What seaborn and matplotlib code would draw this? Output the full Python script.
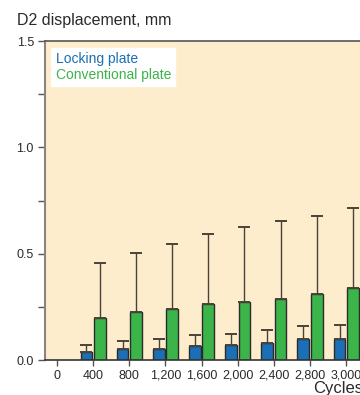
import matplotlib
matplotlib.use("Agg")
import matplotlib.pyplot as plt
import seaborn as sns
import pandas as pd
import numpy as np

sns.set_style("ticks")
plt.rcParams["font.family"] = ["Liberation Sans", "DejaVu Sans"]

# Data
cycles = ["0", "400", "800", "1,200", "1,600", "2,000", "2,400", "2,800", "3,000"]
bar_cycles = cycles[1:]
locking_mean = [0.038, 0.050, 0.052, 0.068, 0.071, 0.080, 0.098, 0.098]
locking_sd = [0.031, 0.041, 0.047, 0.049, 0.050, 0.063, 0.064, 0.067]
conventional_mean = [0.198, 0.225, 0.239, 0.264, 0.274, 0.288, 0.311, 0.340]
conventional_sd = [0.260, 0.280, 0.308, 0.329, 0.352, 0.364, 0.365, 0.374]
groups = ["Locking plate", "Conventional plate"]
colors = ["#1b6fb6", "#3bb44a"]

df = pd.DataFrame({
    "Cycles": bar_cycles * 2,
    "Displacement": locking_mean + conventional_mean,
    "SD": locking_sd + conventional_sd,
    "Plate": [groups[0]] * len(bar_cycles) + [groups[1]] * len(bar_cycles),
})

fig = plt.figure(figsize=(3.6, 3.95), dpi=100)
ax = fig.add_axes([0.125, 0.0886, 0.892, 0.8076])
ax.set_facecolor("#fdedcd")

sns.barplot(data=df, x="Cycles", y="Displacement", hue="Plate", order=cycles,
            hue_order=groups, palette=colors, saturation=1, width=0.74, gap=0.12,
            errorbar=None, edgecolor="#2b2b2b", linewidth=1.0, ax=ax,
            legend=False)

# One-sided error bars on top of each bar
sd_lookup = {g: dict(zip(df[df.Plate == g].Cycles, df[df.Plate == g].SD)) for g in groups}
for g, container in zip(groups, ax.containers):
    for bar in container:
        xc = bar.get_x() + bar.get_width() / 2
        h = bar.get_height()
        if not np.isfinite(h):
            continue
        cat = cycles[int(round(xc))]
        err = sd_lookup[g][cat]
        ax.errorbar(xc, h, yerr=[[0], [err]], fmt="none", ecolor="#4a4238",
                    elinewidth=1.0, capsize=4, capthick=1.4, zorder=1)

ax.set_ylim(0, 1.5)
ax.set_xlim(-0.33, 8.55)
ax.set_yticks([0, 0.5, 1.0, 1.5])
ax.set_yticklabels(["0.0", "0.5", "1.0", "1.5"])
ax.set_yticks([0.25, 0.75, 1.25], minor=True)
ax.tick_params(axis="y", which="both", length=5, width=1, color="#555555",
               labelsize=9, labelcolor="#2a2a2a", pad=3)
ax.tick_params(axis="x", length=4, width=1, color="#555555",
               labelsize=9, labelcolor="#2a2a2a", pad=3)
ax.set_xlabel("")
ax.set_ylabel("")

for side in ["top", "right", "bottom"]:
    ax.spines[side].set_visible(True)
ax.spines["left"].set_color("#8a8580")
ax.spines["left"].set_linewidth(1.5)
ax.spines["bottom"].set_color("#333333")
ax.spines["bottom"].set_linewidth(1.2)
ax.spines["top"].set_color("#555555")
ax.spines["top"].set_linewidth(1.2)

# Coloured-text legend
handles = [plt.Rectangle((0, 0), 0, 0, visible=False) for _ in groups]
leg = ax.legend(handles, groups, loc="upper left", bbox_to_anchor=(0.02, 0.978),
                handlelength=0, handletextpad=0, labelcolor=colors,
                fontsize=10, frameon=True, fancybox=False, framealpha=1,
                borderpad=0.3, labelspacing=0.1, borderaxespad=0)
leg.get_frame().set_edgecolor("white")
leg.get_frame().set_facecolor("white")

fig.text(17 / 360, 1 - 25 / 395, "D2 displacement, mm", fontsize=11.5,
         color="#2a2a2a", ha="left", va="baseline")
fig.text(313 / 360, 1 - 393 / 395, "Cycles", fontsize=12, color="#2a2a2a",
         ha="left", va="baseline")

fig.savefig("out.png", dpi=100)
